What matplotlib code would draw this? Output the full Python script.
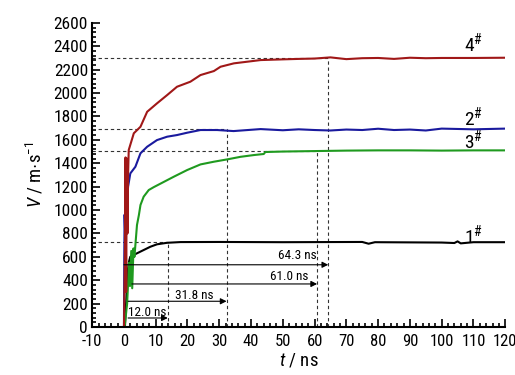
import matplotlib
matplotlib.use("Agg")
import matplotlib.pyplot as plt
from matplotlib.ticker import MultipleLocator

plt.rcParams['font.family'] = ['Roboto Condensed', 'Liberation Sans', 'DejaVu Sans']
plt.rcParams['axes.unicode_minus'] = False
plt.rcParams['mathtext.fontset'] = 'custom'
plt.rcParams['mathtext.rm'] = 'Roboto Condensed'
plt.rcParams['mathtext.it'] = 'Roboto Condensed:italic'

# curve data (t in ns, V in m/s)
t4 = [0, 0.3, 0.5, 0.7, 0.9, 1.1, 1.3, 1.5, 3.1, 5.2, 7.3, 10.4, 13.6, 16.7, 20.9, 24.1,
      28.3, 30.4, 34.6, 43.0, 50, 55, 60, 65, 70, 75, 80, 85, 90, 95, 100, 110, 120]
v4 = [0, 600, 1450, 300, 1440, 800, 1300, 1513, 1656, 1712, 1840, 1912, 1983, 2054, 2097, 2154,
      2188, 2225, 2254, 2282, 2288, 2292, 2295, 2305, 2290, 2298, 2300, 2292, 2302, 2298, 2300, 2300, 2302]

t2 = [0, 0.1, 0.2, 0.5, 0.8, 1.3, 2.0, 3.6, 5.2, 7.3, 10.4, 13.6, 16.7, 19.9, 24.1, 29.3,
      34.5, 43.0, 50, 55, 60, 65, 70, 75, 80, 85, 90, 95, 100, 110, 120]
v2 = [0, 600, 960, 700, 1000, 1200, 1313, 1370, 1485, 1541, 1598, 1627, 1641, 1661, 1684, 1684,
      1675, 1692, 1682, 1690, 1684, 1680, 1688, 1684, 1695, 1684, 1688, 1680, 1696, 1690, 1696]

t3 = [0.2, 1.0, 1.6, 1.9, 2.3, 2.6, 3.0, 3.3, 4.1, 4.7, 5.2, 6.2, 7.8, 9.4, 15.7, 19.9, 24.1,
      28.3, 32.5, 36.7, 40.9, 44.0, 44.5, 50, 60, 70, 80, 90, 100, 110, 120]
v3 = [0, 200, 550, 350, 650, 331, 672, 600, 872, 957, 1043, 1114, 1171, 1196, 1285, 1342, 1390,
      1413, 1433, 1455, 1470, 1479, 1496, 1500, 1504, 1508, 1510, 1510, 1508, 1510, 1510]

t1 = [0.3, 1.2, 1.6, 2.0, 4.1, 6.2, 8.3, 10.4, 13.6, 17.8, 30, 50, 75, 77, 79, 100, 104, 105, 106, 110, 120]
v1 = [0, 480, 560, 601, 630, 658, 686, 707, 720, 726, 727, 725, 727, 712, 725, 722, 718, 732, 715, 725, 725]

# characteristic times: label, arrow start / end, arrow height, steady velocity
rise_labels = ['12.0 ns', '31.8 ns', '61.0 ns', '64.3 ns']
rise_start = [1.3, 1.3, 2.5, 0.0]
rise_end = [13.8, 32.3, 60.8, 64.3]
arrow_v = [77, 220, 368, 532]
steady_v = [725, 1690, 1505, 2300]

fig = plt.figure(figsize=(5.15, 3.75), dpi=100)
ax = fig.add_axes([0.179, 0.128, 0.802, 0.811])

dash = dict(color='#333333', lw=0.8, ls=(0, (3, 2.5)))
for te, vs in zip(rise_end, steady_v):
    ax.plot([-10, te], [vs, vs], **dash)
    ax.plot([te, te], [0, vs], **dash)

ax.plot(t1, v1, color='black', lw=1.5)
ax.plot(t3, v3, color='#1f9a1f', lw=1.5)
ax.plot(t2, v2, color='#1a1a9e', lw=1.5)
ax.plot(t4, v4, color='#a01818', lw=1.5)

for ts, te, av in zip(rise_start, rise_end, arrow_v):
    ax.annotate('', xy=(te, av), xytext=(ts, av),
                arrowprops=dict(arrowstyle='-|>', color='black', lw=0.8,
                                mutation_scale=9, shrinkA=0, shrinkB=0))
label_xy = [(7.3, 122), (22.2, 273), (52.0, 430), (54.5, 610)]
for lab, (lx, ly) in zip(rise_labels, label_xy):
    ax.text(lx, ly, lab, fontsize=9.5, ha='center', va='center')

for name, lx, ly in [('4', 110, 2430), ('2', 110, 1795), ('3', 110, 1598), ('1', 110, 786)]:
    ax.text(lx, ly, name + r'$^{\#}$', fontsize=14, ha='center', va='center')

ax.set_xlim(-10, 120)
ax.set_ylim(0, 2600)
ax.xaxis.set_major_locator(MultipleLocator(10))
ax.xaxis.set_minor_locator(MultipleLocator(2))
ax.yaxis.set_major_locator(MultipleLocator(200))
ax.yaxis.set_minor_locator(MultipleLocator(40))
ax.tick_params(which='both', direction='in', width=1.2, labelsize=12.5, pad=3)
ax.tick_params(axis='x', which='both', labelsize=12, pad=5)
ax.tick_params(which='major', length=6)
ax.tick_params(which='minor', length=3)
for s in ['top', 'right']:
    ax.spines[s].set_visible(False)
for s in ['left', 'bottom']:
    ax.spines[s].set_linewidth(1.5)

ax.set_xlabel(r'$\it{t}$ / ns', fontsize=13.5, labelpad=2)
ax.set_ylabel(r'$\it{V}$ / m$\cdot$s$^{-1}$', fontsize=13.5, labelpad=6)

fig.savefig('out.png', dpi=100)
